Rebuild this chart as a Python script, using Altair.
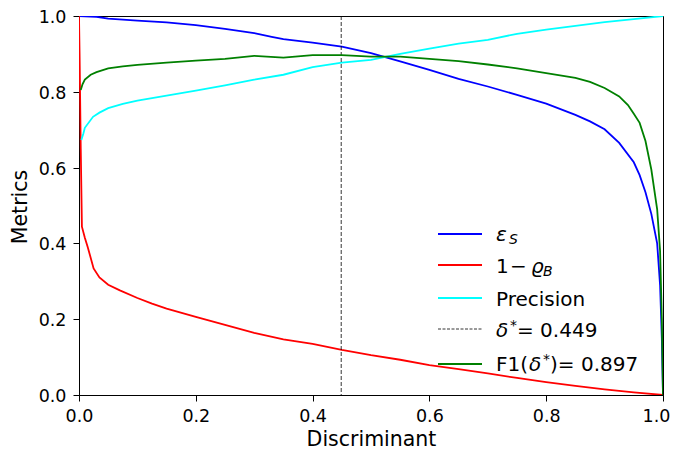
import altair as alt
import pandas as pd

# ---- data ----
x_eps = [0.0, 0.03, 0.05, 0.1, 0.15, 0.2, 0.25, 0.3, 0.33, 0.35, 0.4, 0.45, 0.5, 0.55, 0.6,
         0.65, 0.7, 0.75, 0.8, 0.85, 0.875, 0.9, 0.925, 0.95, 0.96, 0.97, 0.98, 0.99, 0.995,
         0.998, 1.0]
eps_s = [1.0, 0.998, 0.993, 0.988, 0.983, 0.976, 0.966, 0.955, 0.945, 0.939, 0.930, 0.919, 0.902,
         0.880, 0.858, 0.834, 0.814, 0.792, 0.769, 0.739, 0.722, 0.701, 0.665, 0.614, 0.580,
         0.535, 0.478, 0.400, 0.290, 0.150, 0.0]

x_rho = [0.0, 0.001, 0.003, 0.005, 0.01, 0.015, 0.025, 0.035, 0.05, 0.07, 0.1, 0.125, 0.15, 0.2,
         0.25, 0.3, 0.35, 0.4, 0.45, 0.5, 0.55, 0.6, 0.65, 0.7, 0.75, 0.8, 0.85, 0.9, 0.95, 1.0]
one_minus_rho = [1.0, 0.90, 0.65, 0.444, 0.415, 0.39, 0.334, 0.310, 0.291, 0.276, 0.256, 0.241,
                 0.228, 0.206, 0.185, 0.164, 0.147, 0.135, 0.119, 0.105, 0.093, 0.079, 0.068,
                 0.057, 0.045, 0.034, 0.024, 0.015, 0.007, 0.0]

x_prec = [0.004, 0.0075, 0.01, 0.024, 0.035, 0.05, 0.075, 0.1, 0.15, 0.2, 0.25, 0.3, 0.35, 0.4,
          0.45, 0.5, 0.55, 0.6, 0.65, 0.7, 0.75, 0.8, 0.85, 0.9, 0.95, 1.0]
precision = [0.673, 0.690, 0.705, 0.734, 0.745, 0.757, 0.768, 0.777, 0.790, 0.803, 0.817, 0.832,
             0.845, 0.865, 0.877, 0.884, 0.900, 0.914, 0.927, 0.937, 0.953, 0.964, 0.974, 0.984,
             0.992, 1.0]

x_f1 = [0.003, 0.006, 0.01, 0.02, 0.03, 0.05, 0.075, 0.1, 0.15, 0.2, 0.25, 0.3, 0.35, 0.4, 0.45,
        0.5, 0.55, 0.6, 0.65, 0.7, 0.75, 0.8, 0.85, 0.875, 0.9, 0.925, 0.94, 0.95, 0.96, 0.97,
        0.98, 0.99, 0.995, 0.998, 1.0]
f1 = [0.805, 0.820, 0.832, 0.845, 0.852, 0.862, 0.867, 0.871, 0.877, 0.882, 0.887, 0.895, 0.890,
      0.897, 0.897, 0.893, 0.893, 0.887, 0.881, 0.872, 0.862, 0.849, 0.837, 0.826, 0.810, 0.788,
      0.765, 0.742, 0.718, 0.670, 0.595, 0.490, 0.380, 0.200, 0.0]

delta_star = 0.449
x_ticks = [0.0, 0.2, 0.4, 0.6, 0.8, 1.0]
y_ticks = [0.0, 0.2, 0.4, 0.6, 0.8, 1.0]

W, H = 584, 379
FONT = "DejaVu Sans"

x_scale = alt.Scale(domain=[0, 1], nice=False)
y_scale = alt.Scale(domain=[0, 1], nice=False)

x_axis = alt.Axis(title="Discriminant", values=x_ticks, format=".1f", grid=False,
                  tickSize=6, labelPadding=6, labelFontSize=17.5, titleFontSize=20.5,
                  titleFontWeight="normal", labelFlush=False, domainColor="black",
                  tickColor="black", labelColor="black", titleColor="black",
                  labelOffset={"condition": {"test": "datum.value >= 1", "value": -7},
                               "value": 0},
                  titleY=50, titleBaseline="alphabetic")
y_axis = alt.Axis(title="Metrics", values=y_ticks, format=".1f", grid=False,
                  tickSize=6, labelPadding=7, labelFontSize=17.5, titleFontSize=20.5,
                  titleFontWeight="normal", labelFlush=False, domainColor="black",
                  tickColor="black", labelColor="black", titleColor="black",
                  labelOffset=1.5,
                  titleX=-53, titleY=H / 2 + 1, titleBaseline="alphabetic", titleAngle=270)


def series_layer(xs, ys, color):
    df = pd.DataFrame({"x": xs, "y": ys})
    return alt.Chart(df).mark_line(color=color, strokeWidth=1.8, clip=True).encode(
        x=alt.X("x:Q", scale=x_scale, axis=x_axis),
        y=alt.Y("y:Q", scale=y_scale, axis=y_axis),
    )


blue = series_layer(x_eps, eps_s, "#0000ff")
red = series_layer(x_rho, one_minus_rho, "#ff0000")
cyan = series_layer(x_prec, precision, "#00ffff")
green = series_layer(x_f1, f1, "#008000")

vline = alt.Chart(pd.DataFrame({"x": [delta_star]})).mark_rule(
    color="black", strokeWidth=0.8, strokeDash=[4, 2]
).encode(x=alt.X("x:Q", scale=x_scale, axis=x_axis))

# ---- hand-made legend (matplotlib style, no frame) ----
one = pd.DataFrame({"k": [0]})


def sym(y, color, dash=None):
    kw = dict(color=color, strokeWidth=1.8)
    if dash:
        kw = dict(color=color, strokeWidth=0.8, strokeDash=dash)
    return alt.Chart(one).mark_rule(**kw).encode(
        x=alt.value(359), x2=alt.value(403), y=alt.value(y))


def txt(s, x, y, size=20, italic=False):
    kw = dict(text=s, font=FONT, fontSize=size, align="left", baseline="alphabetic",
              color="black")
    if italic:
        kw["fontStyle"] = "italic"
    return alt.Chart(one).mark_text(**kw).encode(x=alt.value(x), y=alt.value(y))


legend = [
    sym(218, "#0000ff"),
    txt("ε", 417, 225, italic=True),
    txt("S", 430, 227.5, size=14, italic=True),
    sym(249, "#ff0000"),
    txt("1", 417, 257),
    txt("−", 431, 257),
    txt("ϱ", 452, 257, italic=True),
    txt("B", 464, 259.5, size=14, italic=True),
    sym(282, "#00ffff"),
    txt("Precision", 417, 290),
    sym(313, "black", dash=[3, 1.5]),
    txt("δ", 417, 321, italic=True),
    txt("*", 431, 314, size=14),
    txt("= 0.449", 438, 321),
    sym(348, "#008000"),
    txt("F1(", 417, 355),
    txt("δ", 450, 355, italic=True),
    txt("*", 464, 348, size=14),
    txt(")= 0.897", 471, 355),
]

chart = alt.layer(blue, red, cyan, vline, green, *legend).properties(
    width=W, height=H,
    autosize=alt.AutoSizeParams(type="none"),
    padding={"left": 71, "top": 8, "right": 8, "bottom": 56},
).configure(font=FONT).configure_view(stroke="black", strokeWidth=1)

chart.save("out.html", embed_options={"renderer": "svg", "actions": False})
